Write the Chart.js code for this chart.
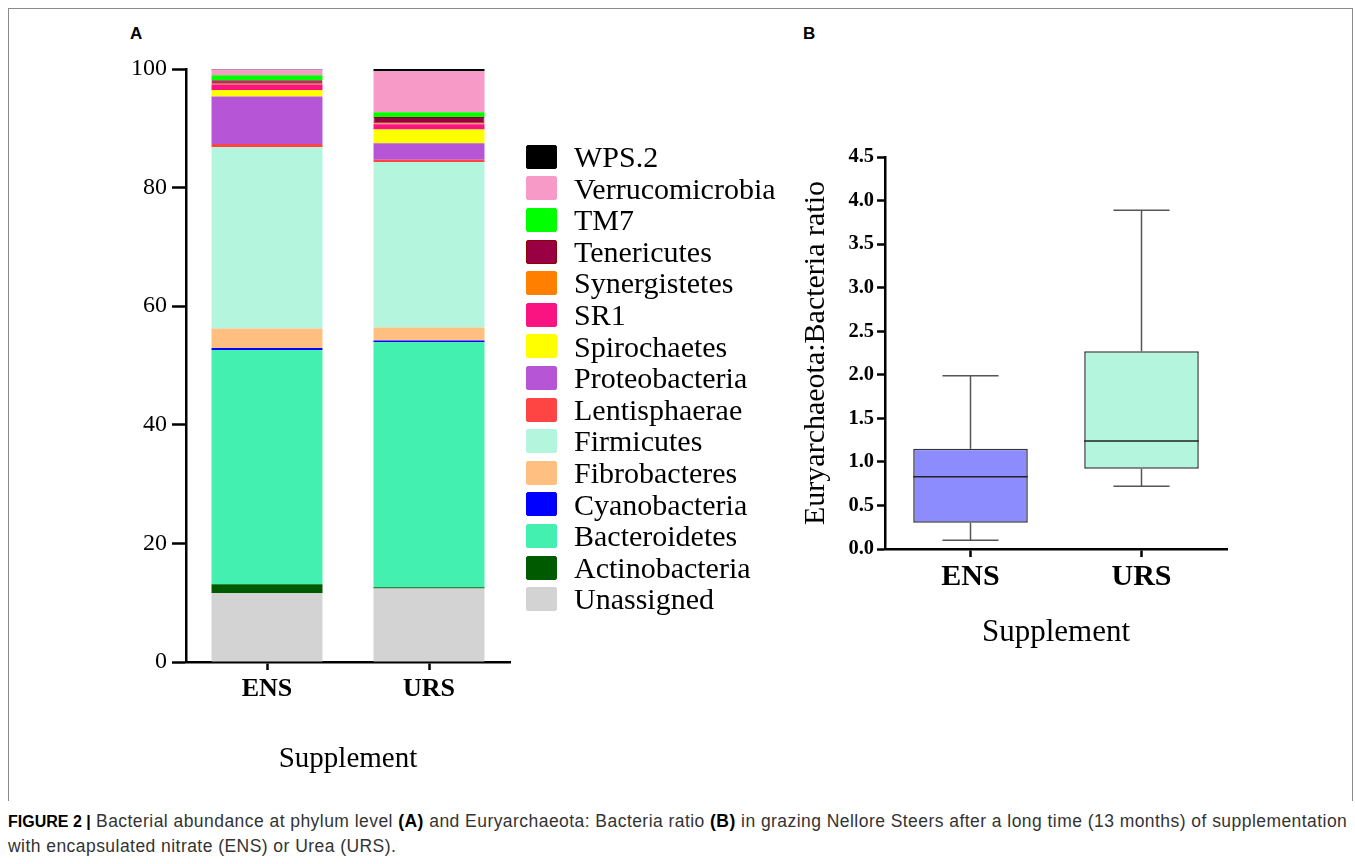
<!DOCTYPE html>
<html>
<head>
<meta charset="utf-8">
<script src="https://cdn.jsdelivr.net/npm/chart.js@4.4.1/dist/chart.umd.min.js"></script>
<style>
  body { margin: 0; background: #fff; width: 1355px; height: 864px; position: relative; overflow: hidden; }
  #frame { position: absolute; left: 8px; top: 8px; width: 1343px; height: 792px; border: 1px solid #8a8a8a; border-bottom: none; }
  .tag { position: absolute; font-family: 'Liberation Sans', Arial, sans-serif; font-weight: bold; font-size: 17px; color: #000; }
  #wrapA { position: absolute; left: 100px; top: 40px; }
  #wrapB { position: absolute; left: 770px; top: 130px; }
  #legendA { position: absolute; left: 526px; top: 141px; margin: 0; padding: 0; list-style: none;
    font-family: 'Liberation Serif', 'Times New Roman', serif; font-size: 30px; line-height: 31.6px; color: #000; }
  #legendA li { display: flex; align-items: center; height: 31.6px; white-space: nowrap; }
  #legendA .swatch { width: 31px; height: 24px; box-sizing: border-box; border: 1.5px solid; border-radius: 2px; margin-right: 17px; }
  #caption { position: absolute; left: 8px; top: 809px; width: 1345px; font-family: 'Liberation Sans', Arial, sans-serif;
    font-size: 17.5px; letter-spacing: 0.45px; line-height: 25px; color: #333; white-space: nowrap; }
  #caption b { color: #000; }
  #caption .fig { font-size: 16px; letter-spacing: 0; }
</style>
</head>
<body>
<div id="frame"></div>
<div class="tag" style="left:130px;top:24px;">A</div>
<div class="tag" style="left:803px;top:24px;">B</div>
<div id="wrapA"><canvas id="chartA" width="700" height="760"></canvas></div>
<ul id="legendA"></ul>
<div id="wrapB"><canvas id="chartB" width="470" height="530"></canvas></div>
<div id="caption"><b class="fig">FIGURE 2 |</b> Bacterial abundance at phylum level <b>(A)</b> and Euryarchaeota: Bacteria ratio <b>(B)</b> in grazing Nellore Steers after a long time (13 months) of supplementation<br>with encapsulated nitrate (ENS) or Urea (URS).</div>

<script>
// --- data ---
const groups = ['ENS', 'URS'];

// stacking order, bottom to top
const phyla = ['Unassigned', 'Actinobacteria', 'Bacteroidetes', 'Cyanobacteria', 'Fibrobacteres',
  'Firmicutes', 'Lentisphaerae', 'Proteobacteria', 'Spirochaetes', 'SR1', 'Synergistetes',
  'Tenericutes', 'TM7', 'Verrucomicrobia', 'WPS.2'];
const ensAbundance = [11.6, 1.5, 39.5, 0.35, 3.3, 30.6, 0.5, 8.0, 1.1, 0.95, 0.1, 0.6, 0.85, 0.95, 0.15];
const ursAbundance = [12.4, 0.2, 41.3, 0.3, 2.2, 27.9, 0.4, 2.8, 2.3, 0.9, 0.1, 1.1, 0.8, 6.9, 0.4];
const phylumColors = ['#d3d3d3', '#005a00', '#44f0b0', '#0000ff', '#ffbf80',
  '#b4f5de', '#ff4444', '#b656d6', '#ffff00', '#fa1482', '#ff7f00',
  '#990044', '#00ff00', '#f79ac8', '#000000'];

const abundanceTicks = [0, 20, 40, 60, 80, 100];

// Euryarchaeota:Bacteria ratio, box plot summary
const boxMin = [0.10, 0.72];
const boxQ1 = [0.30, 0.92];
const boxMedian = [0.83, 1.24];
const boxQ3 = [1.15, 2.27];
const boxMax = [1.99, 3.89];
const boxColors = ['#8c8cff', '#b4f5de'];

Chart.defaults.color = '#000';
Chart.defaults.font.family = "'Liberation Serif', 'Times New Roman', serif";

// legend for A is built as a list next to the canvas (the built-in one is capped in width)
const htmlLegend = {
  id: 'htmlLegend',
  afterUpdate(chart) {
    const list = document.getElementById('legendA');
    list.innerHTML = '';
    const items = chart.options.plugins.legend.labels.generateLabels(chart).reverse();
    items.forEach(item => {
      const li = document.createElement('li');
      const box = document.createElement('span');
      box.className = 'swatch';
      box.style.background = item.fillStyle;
      box.style.borderColor = item.lineWidth ? item.strokeStyle : item.fillStyle;
      const label = document.createElement('span');
      label.textContent = item.text;
      li.append(box, label);
      list.appendChild(li);
    });
  }
};

// --- A: stacked abundance ---
const stackSets = phyla.map((name, i) => ({
  label: name,
  data: [ensAbundance[i], ursAbundance[i]],
  backgroundColor: phylumColors[i],
  borderColor: name === 'Tenericutes' ? '#8b0000' : phylumColors[i],
  borderWidth: name === 'Tenericutes' ? 1 : 0,
  borderSkipped: false,
  barPercentage: 0.685,
  categoryPercentage: 1
}));

new Chart(document.getElementById('chartA'), {
  type: 'bar',
  data: { labels: groups, datasets: stackSets },
  options: {
    responsive: false,
    animation: false,
    layout: { padding: { top: 29, right: 290, bottom: 0, left: 0 } },
    scales: {
      x: {
        stacked: true,
        offset: true,
        grid: { display: true, drawOnChartArea: false, offset: false, tickLength: 8, tickWidth: 2.5, tickColor: '#000' },
        border: { color: '#000', width: 2.5 },
        ticks: { padding: 4, font: { size: 26, weight: 'bold' } },
        title: { display: true, text: 'Supplement', font: { size: 29 }, padding: { top: 0, bottom: 23 } },
        afterFit: s => { s.height = 138; }
      },
      y: {
        stacked: true,
        min: 0,
        max: 100,
        afterBuildTicks: s => { s.ticks = abundanceTicks.map(v => ({ value: v })); },
        grid: { display: true, drawOnChartArea: false, tickLength: 14, tickWidth: 2.5, tickColor: '#000' },
        border: { color: '#000', width: 2.5 },
        ticks: { padding: 5, font: { size: 24 } },
        afterFit: s => { s.width = 86; }
      }
    },
    plugins: {
      tooltip: { enabled: false },
      legend: { display: false }
    }
  },
  plugins: [htmlLegend]
});

// --- B: box plot, whiskers and median drawn through the scales ---
const boxExtras = {
  id: 'boxExtras',
  afterDatasetsDraw(chart) {
    const { ctx, scales: { y } } = chart;
    const bars = chart.getDatasetMeta(0).data;
    ctx.save();
    const seg = (x1, y1, x2, y2) => { ctx.beginPath(); ctx.moveTo(x1, y1); ctx.lineTo(x2, y2); ctx.stroke(); };
    bars.forEach((bar, i) => {
      const half = bar.width / 2;
      const cap = half * 0.49;
      const yMin = y.getPixelForValue(boxMin[i]);
      const yMax = y.getPixelForValue(boxMax[i]);
      ctx.strokeStyle = '#555';
      ctx.lineWidth = 1.5;
      seg(bar.x, y.getPixelForValue(boxQ3[i]), bar.x, yMax);
      seg(bar.x - cap, yMax, bar.x + cap, yMax);
      seg(bar.x, y.getPixelForValue(boxQ1[i]), bar.x, yMin);
      seg(bar.x - cap, yMin, bar.x + cap, yMin);
      ctx.strokeStyle = '#222';
      const yMed = y.getPixelForValue(boxMedian[i]);
      seg(bar.x - half, yMed, bar.x + half, yMed);
    });
    ctx.restore();
  }
};

new Chart(document.getElementById('chartB'), {
  type: 'bar',
  data: {
    labels: groups,
    datasets: [{
      data: groups.map((g, i) => [boxQ1[i], boxQ3[i]]),
      backgroundColor: boxColors,
      borderColor: '#333',
      borderWidth: 1.5,
      borderSkipped: false,
      barPercentage: 0.67,
      categoryPercentage: 1
    }]
  },
  options: {
    responsive: false,
    animation: false,
    layout: { padding: { top: 27, right: 13, bottom: 0, left: 28 } },
    scales: {
      x: {
        offset: true,
        grid: { display: true, drawOnChartArea: false, offset: false, tickLength: 8, tickWidth: 2.5, tickColor: '#000' },
        border: { color: '#000', width: 2.5 },
        ticks: { padding: 2, font: { size: 30, weight: 'bold' } },
        title: { display: true, text: 'Supplement', font: { size: 31 }, padding: { top: 0, bottom: 9 } },
        afterFit: s => { s.height = 111; }
      },
      y: {
        min: 0,
        max: 4.5,
        grid: { display: true, drawOnChartArea: false, tickLength: 8, tickWidth: 2.5, tickColor: '#000' },
        border: { color: '#000', width: 2.5 },
        ticks: { stepSize: 0.5, padding: 3, font: { size: 20.5, weight: 'bold' }, callback: v => v.toFixed(1) },
        title: { display: true, text: 'Euryarchaeota:Bacteria ratio', font: { size: 30 }, padding: { top: 0, bottom: 0 } },
        afterFit: s => { s.width = 87; }
      }
    },
    plugins: {
      tooltip: { enabled: false },
      legend: { display: false }
    }
  },
  plugins: [boxExtras]
});
</script>
</body>
</html>
